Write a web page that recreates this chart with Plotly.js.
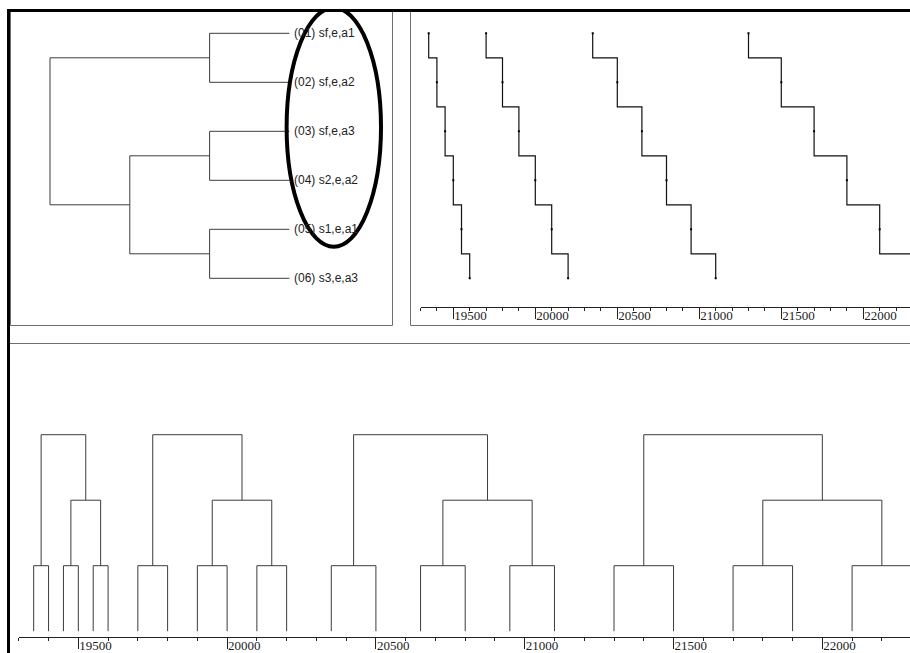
<!DOCTYPE html>
<html><head><meta charset="utf-8">
<script src="https://cdn.plot.ly/plotly-3.0.1.min.js"></script>
<style>html,body{margin:0;padding:0;background:#fff;overflow:hidden}#chart{width:910px;height:653px}</style>
</head><body><div id="chart"></div>
<script>
// ---- data ----
const leafLabels = ["(01) sf,e,a1", "(02) sf,e,a2", "(03) sf,e,a3", "(04) s2,e,a2", "(05) s1,e,a1", "(06) s3,e,a3"];
const leafIndex = [1, 2, 3, 4, 5, 6];
// merges: ids 0-5 are leaves, merge k creates cluster id 6+k
const mergeA = [0, 2, 4, 7, 6];
const mergeB = [1, 3, 5, 8, 9];
const mergeHeight = [1, 1, 1, 2, 3];
const group1Pos = [19350, 19400, 19450, 19500, 19550, 19600];
const group2Pos = [19700, 19800, 19900, 20000, 20100, 20200];
const group3Pos = [20350, 20500, 20650, 20800, 20950, 21100];
const group4Pos = [21300, 21500, 21700, 21900, 22100, 22300];
const tickValues = [19500, 20000, 20500, 21000, 21500, 22000];
const highlightLeaves = [1, 5];

// ---- layout helpers (pixel -> paper) ----
const W = 910, H = 653;
const px = v => v / W, py = v => 1 - v / H;

function dendro(coords) {
  const c = coords.slice(), h = [0, 0, 0, 0, 0, 0];
  const P = [], Q = [];
  for (let k = 0; k < mergeA.length; k++) {
    const a = mergeA[k], b = mergeB[k], hm = mergeHeight[k];
    P.push(c[a], c[a], c[b], c[b], null);
    Q.push(h[a], hm, hm, h[b], null);
    c.push((c[a] + c[b]) / 2); h.push(hm);
  }
  return {pos: P, hgt: Q};
}

const treeColor = '#3c3c3c', stairColor = '#111', frameColor = '#6e6e6e';
const traces = [];
const tl = dendro(leafIndex);
traces.push({x: tl.hgt, y: tl.pos, xaxis: 'x', yaxis: 'y', mode: 'lines', line: {color: treeColor, width: 1}, hoverinfo: 'skip'});

[group1Pos, group2Pos, group3Pos, group4Pos].forEach(g => {
  traces.push({x: g, y: leafIndex, xaxis: 'x2', yaxis: 'y', mode: 'lines+markers',
    line: {color: stairColor, width: 1.2, shape: 'vhv'},
    marker: {symbol: 'square', size: 2, color: '#000'}, hoverinfo: 'skip'});
  const d = dendro(g);
  traces.push({x: d.pos, y: d.hgt, xaxis: 'x3', yaxis: 'y3', mode: 'lines', line: {color: treeColor, width: 1}, hoverinfo: 'skip'});
});

const tickFont = {family: 'Liberation Serif, Times New Roman, serif', size: 13, color: '#222'};
function posAxis(domain, range, anchor) {
  return {domain, range, anchor, showgrid: false, zeroline: false, showline: true, linecolor: '#222', linewidth: 1,
    tickmode: 'array', tickvals: tickValues, ticktext: tickValues.map(String), ticks: 'outside', ticklen: 11,
    tickcolor: '#222', tickwidth: 1, tickfont: tickFont, ticklabelposition: 'outside right', ticklabelstandoff: -3,
    minor: {tickmode: 'linear', tick0: 19300, dtick: 100, ticks: 'outside', ticklen: 3, tickcolor: '#222', tickwidth: 1}};
}
const hidden = {showgrid: false, zeroline: false, showline: false, ticks: '', showticklabels: false};

const annotations = leafLabels.map((t, i) => ({x: 0, y: leafIndex[i], xref: 'x', yref: 'y', text: t, showarrow: false,
  xanchor: 'left', yanchor: 'middle', xshift: 3, font: {family: 'Liberation Sans, Arial, sans-serif', size: 12, color: '#222'}}));

const shapes = [
  // highlight ellipse around leaves
  {type: 'circle', xref: 'x', yref: 'y', x0: 0.035, x1: -1.148, y0: highlightLeaves[0] - 0.52, y1: highlightLeaves[1] + 0.358,
   line: {color: '#000', width: 4}},
  // panel frames
  {type: 'line', xref: 'paper', yref: 'paper', x0: px(10.5), x1: px(10.5), y0: py(10), y1: py(325.5), line: {color: frameColor, width: 1}},
  {type: 'rect', xref: 'paper', yref: 'paper', x0: px(10.5), x1: px(392.5), y0: py(325.5), y1: py(10), line: {color: frameColor, width: 1}},
  {type: 'line', xref: 'paper', yref: 'paper', x0: px(410.5), x1: px(410.5), y0: py(10), y1: py(325.5), line: {color: frameColor, width: 1}},
  {type: 'line', xref: 'paper', yref: 'paper', x0: px(410.5), x1: 1, y0: py(325.5), y1: py(325.5), line: {color: frameColor, width: 1}},
  {type: 'line', xref: 'paper', yref: 'paper', x0: px(10), x1: 1, y0: py(343.5), y1: py(343.5), line: {color: frameColor, width: 1}},
  // thick outer frame
  {type: 'line', xref: 'paper', yref: 'paper', x0: px(7), x1: 1, y0: py(10.5), y1: py(10.5), line: {color: '#000', width: 3}},
  {type: 'line', xref: 'paper', yref: 'paper', x0: px(8.5), x1: px(8.5), y0: py(9), y1: 0, line: {color: '#000', width: 3}}
];

const layout = {
  width: W, height: H, margin: {l: 0, r: 0, t: 0, b: 0}, showlegend: false,
  paper_bgcolor: '#fff', plot_bgcolor: 'rgba(0,0,0,0)',
  xaxis: Object.assign({domain: [px(10.5), px(392.5)], range: [3.495, -1.292], anchor: 'y'}, hidden),
  yaxis: Object.assign({domain: [py(306.5), py(12)], range: [6.5755, 0.5653], anchor: 'x'}, hidden),
  xaxis2: posAxis([px(420.5), 1], [19300, 22284.8], 'y'),
  xaxis3: posAxis([px(18.8), 1], [19300, 22294.6], 'y3'),
  yaxis3: Object.assign({domain: [py(636.5), py(344)], range: [-0.081, 4.385], anchor: 'x3'}, hidden),
  annotations, shapes
};
Plotly.newPlot('chart', traces, layout, {staticPlot: true, displayModeBar: false});
</script></body></html>
